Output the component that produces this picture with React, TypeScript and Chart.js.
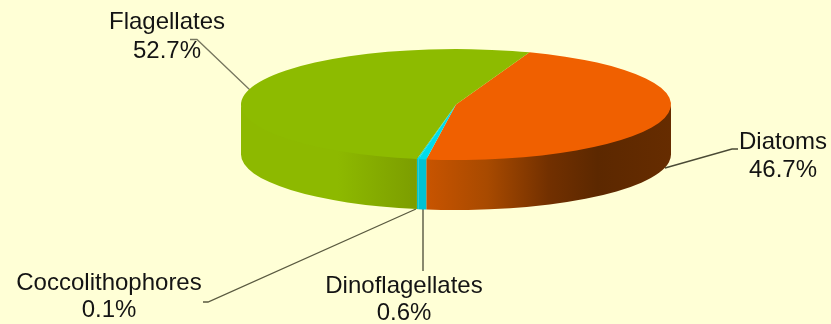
import React, { useEffect, useRef } from "react";
import { Chart, registerables } from "chart.js";

Chart.register(...registerables);

const categories = ["Diatoms", "Dinoflagellates", "Coccolithophores", "Flagellates"];
const shares = [46.7, 0.6, 0.1, 52.7];
const topColors = ["#F06000", "#00DCEB", "#00DCEB", "#8DBB00"];
const wallStops: [number, string][][] = [
  [[0, "#C85400"], [0.25, "#A84A00"], [0.5, "#723000"], [0.7, "#5C2800"], [1, "#662C00"]],
  [[0, "#00C2D2"], [1, "#00C2D2"]],
  [[0, "#00C2D2"], [1, "#00C2D2"]],
  [[0, "#8DB900"], [0.55, "#8DB900"], [1, "#7C9D00"]],
];

const W = 831;
const H = 324;
const BG = "#FFFFD6";
const CX = 456;
const CY = 104.5;
const RX = 215;
const RY = 55.5;
const DEPTH = 50;
const SQUASH = RY / RX;

const labelLayout = [
  { x: 783, y1: 149, y2: 177, line: [[665, 168], [732, 149], [738, 149]], col: "#4A4A35" },
  { x: 404, y1: 293, y2: 320, line: [[423, 205], [423, 271]], col: "#4A4A35" },
  { x: 109, y1: 290, y2: 317, line: [[416, 209], [208, 302], [203, 302]], col: "#5A5A40" },
  { x: 167, y1: 29, y2: 58, line: [[250, 90], [197, 39.5], [190, 39.5]], col: "#77775F" },
];

const pie3d = {
  id: "pie3d",
  beforeDatasetsDraw(chart: any) {
    const ctx: CanvasRenderingContext2D = chart.ctx;
    labelLayout.forEach((l) => {
      ctx.save();
      ctx.strokeStyle = l.col;
      ctx.lineWidth = 1.3;
      ctx.beginPath();
      l.line.forEach(([x, y], i) => (i ? ctx.lineTo(x, y) : ctx.moveTo(x, y)));
      ctx.stroke();
      ctx.restore();
    });
    const arcs = chart.getDatasetMeta(0).data;
    arcs.forEach((arc: any, i: number) => {
      const { x, y, startAngle, endAngle, outerRadius } = arc.getProps(
        ["x", "y", "startAngle", "endAngle", "outerRadius"],
        true
      );
      [0, Math.PI * 2, -Math.PI * 2].forEach((shift) => {
        const a = Math.max(startAngle + shift, 0);
        const b = Math.min(endAngle + shift, Math.PI);
        if (b <= a) return;
        const xa = x + outerRadius * Math.cos(a);
        const xb = x + outerRadius * Math.cos(b);
        const g = ctx.createLinearGradient(Math.min(xa, xb), 0, Math.max(xa, xb), 0);
        wallStops[i].forEach(([p, c]) => g.addColorStop(p, c));
        ctx.save();
        ctx.fillStyle = g;
        ctx.beginPath();
        ctx.ellipse(x, y - 2, outerRadius, outerRadius * SQUASH, 0, a, b, false);
        ctx.ellipse(x, y + DEPTH, outerRadius, outerRadius * SQUASH, 0, b, a, true);
        ctx.closePath();
        ctx.fill();
        ctx.restore();
      });
    });
  },
  beforeDatasetDraw(chart: any) {
    const ctx: CanvasRenderingContext2D = chart.ctx;
    ctx.save();
    ctx.translate(CX, CY);
    ctx.scale(1, SQUASH);
    ctx.translate(-CX, -CY);
  },
  afterDatasetDraw(chart: any) {
    chart.ctx.restore();
  },
  afterDraw(chart: any) {
    const ctx: CanvasRenderingContext2D = chart.ctx;
    ctx.save();
    ctx.font = '24px "Liberation Sans", Arial, sans-serif';
    ctx.fillStyle = "#141414";
    ctx.textAlign = "center";
    ctx.textBaseline = "alphabetic";
    categories.forEach((name, i) => {
      const l = labelLayout[i];
      ctx.fillText(name, l.x, l.y1);
      ctx.fillText(shares[i].toFixed(1) + "%", l.x, l.y2);
    });
    ctx.restore();
  },
};

export default function App() {
  const ref = useRef<HTMLCanvasElement>(null);
  useEffect(() => {
    const chart = new Chart(ref.current!, {
      type: "pie",
      data: {
        labels: categories,
        datasets: [
          {
            data: shares,
            backgroundColor: topColors,
            borderWidth: 0,
            radius: RX,
            clip: false,
          } as any,
        ],
      },
      options: {
        animation: false,
        responsive: false,
        rotation: 20,
        layout: { padding: { left: 2 * CX - W, bottom: H - 2 * CY } },
        plugins: { legend: { display: false }, tooltip: { enabled: false } },
      },
      plugins: [pie3d],
    });
    return () => chart.destroy();
  }, []);
  return (
    <div style={{ position: "fixed", left: 0, top: 0, width: W, height: H, background: BG }}>
      <canvas ref={ref} width={W} height={H} style={{ display: "block" }} />
    </div>
  );
}
